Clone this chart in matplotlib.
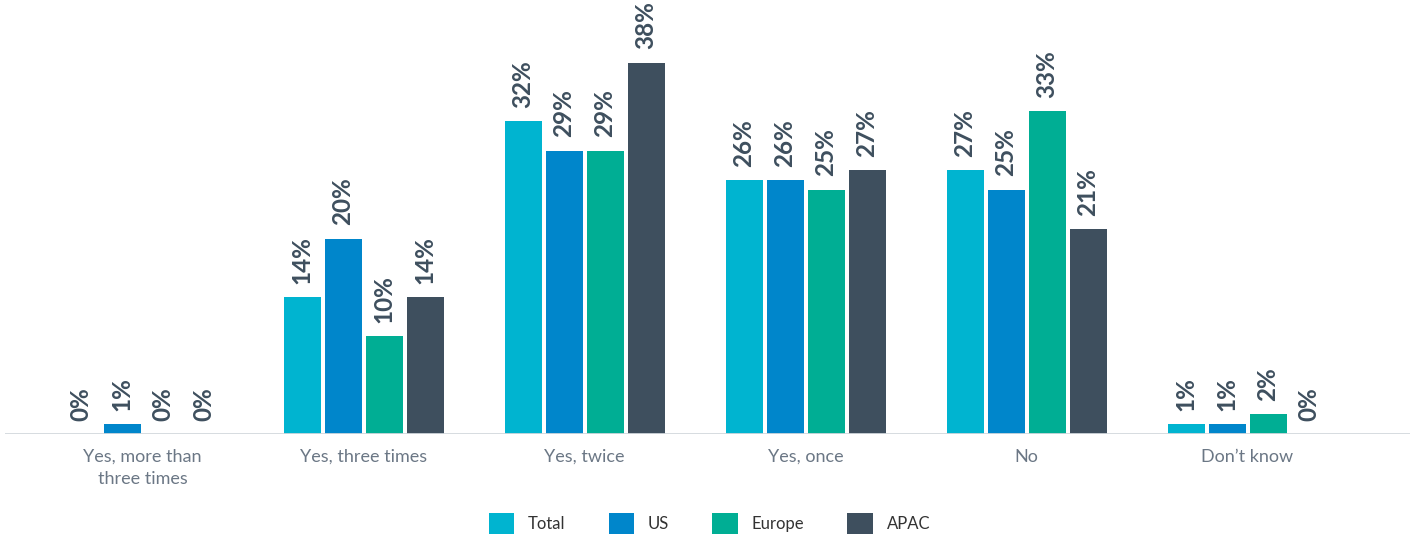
import matplotlib
matplotlib.use("Agg")
import matplotlib.pyplot as plt
import numpy as np
from matplotlib.patches import Patch

categories = ["Yes, more than\nthree times", "Yes, three times", "Yes, twice", "Yes, once", "No", "Don\u2019t know"]
series_names = ["Total", "US", "Europe", "APAC"]
total = [0, 14, 32, 26, 27, 1]
us = [1, 20, 29, 26, 25, 1]
europe = [0, 10, 29, 25, 33, 2]
apac = [0, 14, 38, 27, 21, 0]
series_values = [total, us, europe, apac]
colors = ["#00B4D0", "#0086CB", "#00AE94", "#3E4F5E"]

plt.rcParams['font.family'] = ['Lato', 'DejaVu Sans']

fig = plt.figure(figsize=(14.13, 5.36), dpi=100)
ax = fig.add_axes([5/1413, 102/536, 1405/1413, 391/536])

x = np.arange(len(categories))
width = 37/221
step = 41/221
for i, (name, vals, c) in enumerate(zip(series_names, series_values, colors)):
    pos = x + (i - 1.5) * step
    ax.bar(pos, vals, width=width, color=c, label=name, zorder=2)
    for xp, v in zip(pos, vals):
        ax.annotate(f"{v}%", xy=(xp, v), xytext=(0, 9.5), textcoords="offset points",
                    rotation=90, ha="center", va="bottom", fontsize=17.5,
                    fontweight="bold", color="#3E4F5E")

ax.set_xlim(-137.5/221, -137.5/221 + 1405/221)
ax.set_ylim(0, 40)
ax.axhline(0, color="#D3D8DD", lw=2, zorder=3)
for s in ax.spines.values():
    s.set_visible(False)
ax.set_yticks([])
ax.set_xticks(x)
ax.set_xticklabels(categories, fontsize=13, color="#6B7785", linespacing=1.5)
ax.tick_params(axis="x", length=0, pad=10.5)

handles = [Patch(facecolor=c, edgecolor="none") for c in colors]
fig.legend(handles, series_names, loc="center", bbox_to_anchor=(0.502, 0.024), ncol=4,
           frameon=False, fontsize=12, handlelength=1.55, handleheight=1.55,
           handletextpad=0.8, columnspacing=2.6, labelcolor="#333333")

fig.savefig("out.png", dpi=100)
